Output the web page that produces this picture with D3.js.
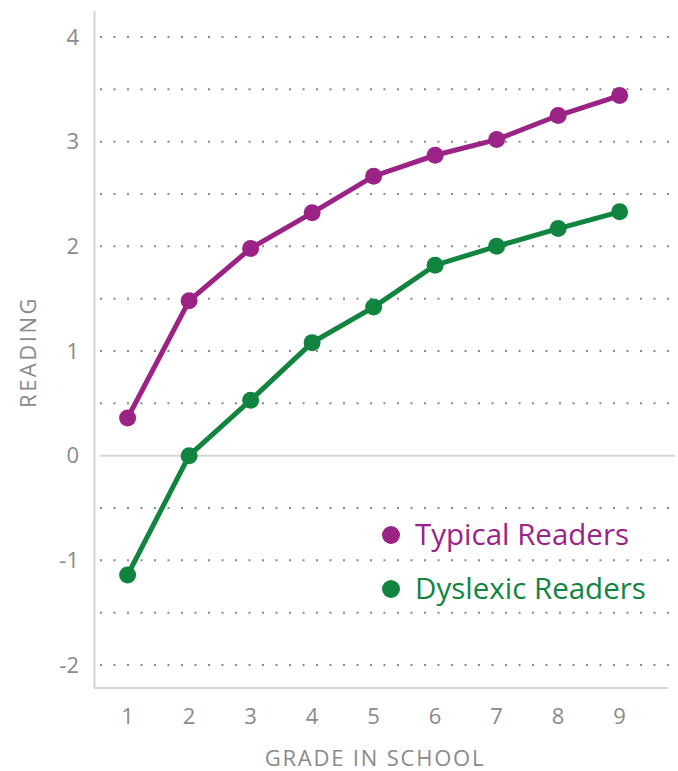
<!DOCTYPE html>
<html>
<head>
<meta charset="utf-8">
<script src="https://cdn.jsdelivr.net/npm/d3@7"></script>
<style>
  body { margin: 0; background: #fff; }
  text { font-family: "Open Sans", sans-serif; }
</style>
</head>
<body>
<div id="chart"></div>
<script>
var grades = [1, 2, 3, 4, 5, 6, 7, 8, 9];
var typicalReaders = [0.36, 1.48, 1.98, 2.32, 2.67, 2.87, 3.02, 3.25, 3.44];
var dyslexicReaders = [-1.14, 0.0, 0.53, 1.08, 1.42, 1.82, 2.0, 2.17, 2.33];
var yTicks = [-2, -1, 0, 1, 2, 3, 4];
var gridValues = [-2, -1.5, -1, -0.5, 0.5, 1, 1.5, 2, 2.5, 3, 3.5, 4];
var seriesNames = ["Typical Readers", "Dyslexic Readers"];
var seriesColors = ["#9b2386", "#11843f"];

var width = 678,
    height = 771;

var svg = d3.select("#chart").append("svg")
    .attr("width", width)
    .attr("height", height);

var x = d3.scaleLinear().domain([0.47, 9.9]).range([95, 675]);
var y = d3.scaleLinear().domain([-2, 4]).range([665, 37]);

// dotted grid
svg.append("g")
    .selectAll("line")
    .data(gridValues)
    .enter().append("line")
    .attr("x1", 100)
    .attr("x2", 675)
    .attr("y1", function(d) { return y(d); })
    .attr("y2", function(d) { return y(d); })
    .style("stroke", "#8a8a8a")
    .style("stroke-width", 2)
    .style("stroke-dasharray", "2,11.5");

// zero line
svg.append("line")
    .attr("x1", 100).attr("x2", 675)
    .attr("y1", y(0)).attr("y2", y(0))
    .style("stroke", "#d4d4d4")
    .style("stroke-width", 2);

// axes lines
svg.append("line")
    .attr("x1", 94.5).attr("x2", 94.5)
    .attr("y1", 11).attr("y2", 688)
    .style("stroke", "#d4d4d4")
    .style("stroke-width", 2);

svg.append("line")
    .attr("x1", 94).attr("x2", 668)
    .attr("y1", 688).attr("y2", 688)
    .style("stroke", "#d4d4d4")
    .style("stroke-width", 2);

// y tick labels
svg.append("g")
    .selectAll("text")
    .data(yTicks)
    .enter().append("text")
    .attr("x", 79)
    .attr("y", function(d) { return y(d); })
    .attr("dy", "0.35em")
    .attr("text-anchor", "end")
    .style("font-size", "22px")
    .style("fill", "#8a8a8a")
    .text(function(d) { return d; });

// x tick labels
svg.append("g")
    .selectAll("text")
    .data(grades)
    .enter().append("text")
    .attr("x", function(d) { return x(d); })
    .attr("y", 724)
    .attr("text-anchor", "middle")
    .style("font-size", "22px")
    .style("fill", "#8a8a8a")
    .text(function(d) { return d; });

// axis titles
svg.append("text")
    .attr("x", 375)
    .attr("y", 766)
    .attr("text-anchor", "middle")
    .style("font-size", "22px")
    .style("letter-spacing", "1.8px")
    .style("fill", "#8a8a8a")
    .text("GRADE IN SCHOOL");

svg.append("text")
    .attr("transform", "translate(36,352) rotate(-90)")
    .attr("text-anchor", "middle")
    .style("font-size", "22px")
    .style("letter-spacing", "2.5px")
    .style("fill", "#8a8a8a")
    .text("READING");

var line = d3.line()
    .x(function(d, i) { return x(grades[i]); })
    .y(function(d) { return y(d); });

[typicalReaders, dyslexicReaders].forEach(function(values, k) {
    var g = svg.append("g");
    g.append("path")
        .datum(values)
        .attr("d", line)
        .style("fill", "none")
        .style("stroke", seriesColors[k])
        .style("stroke-width", 5);
    g.selectAll("circle")
        .data(values)
        .enter().append("circle")
        .attr("cx", function(d, i) { return x(grades[i]); })
        .attr("cy", function(d) { return y(d); })
        .attr("r", 8.5)
        .style("fill", seriesColors[k]);
});

// legend
var legend = svg.append("g")
    .selectAll("g")
    .data(seriesNames)
    .enter().append("g")
    .attr("transform", function(d, i) { return "translate(391," + (535 + i * 54) + ")"; });

legend.append("circle")
    .attr("r", 9)
    .style("fill", function(d, i) { return seriesColors[i]; });

legend.append("text")
    .attr("x", 24)
    .attr("dy", "0.35em")
    .style("font-size", "29.5px")
    .style("fill", function(d, i) { return seriesColors[i]; })
    .text(function(d) { return d; });
</script>
</body>
</html>
